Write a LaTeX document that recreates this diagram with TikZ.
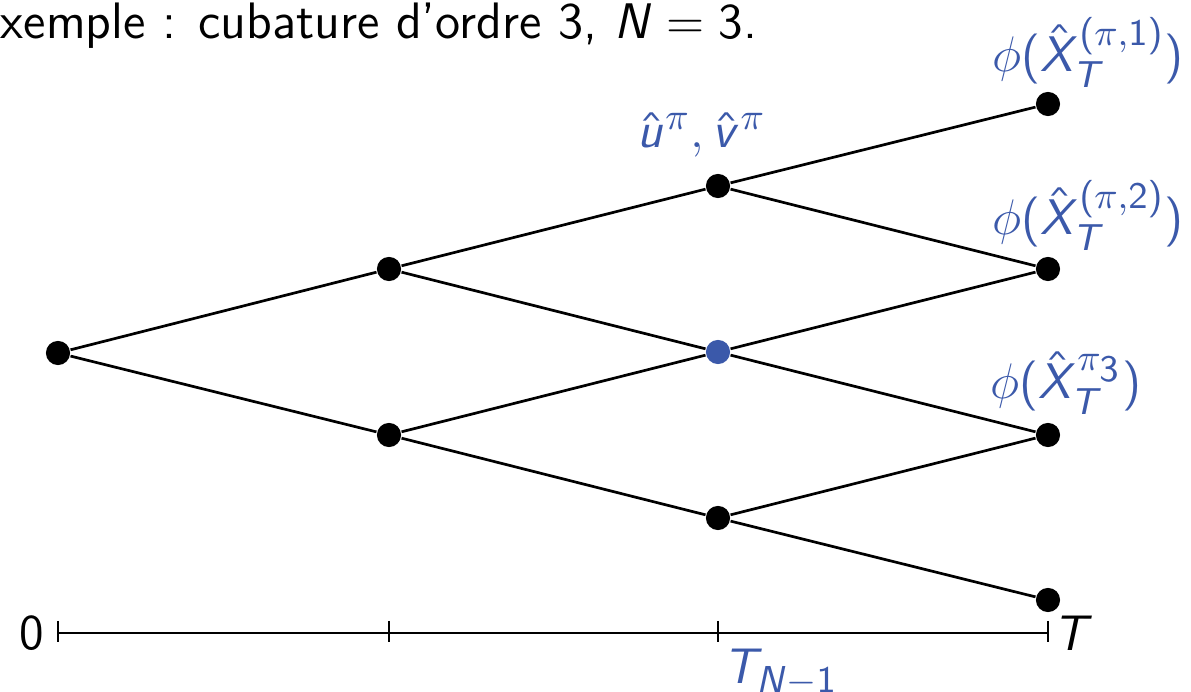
\documentclass[tikz,border=0pt]{standalone}
\usepackage{tikz}
\DeclareSymbolFont{sfletters}{OT1}{cmss}{m}{sl}
\SetSymbolFont{operators}{normal}{OT1}{cmss}{m}{n}
\DeclareMathSymbol{N}{\mathalpha}{sfletters}{`N}
\DeclareMathSymbol{T}{\mathalpha}{sfletters}{`T}
\DeclareMathSymbol{X}{\mathalpha}{sfletters}{`X}
\DeclareMathSymbol{u}{\mathalpha}{sfletters}{`u}
\DeclareMathSymbol{v}{\mathalpha}{sfletters}{`v}
\definecolor{sblue}{RGB}{59,89,170}
\tikzset{
  dot/.style={circle,fill=black,inner sep=0pt,minimum size=5.8pt},
  bdot/.style={circle,fill=sblue,inner sep=0pt,minimum size=5.8pt},
  edge/.style={line width=0.65pt},
  lab/.style={text=sblue,inner sep=0pt},
  tick/.style={line width=0.45pt},
}
\begin{document}
\begin{tikzpicture}[x=0.24pt,y=-0.24pt,font=\sffamily\fontsize{12.3}{14}\selectfont]
\useasboundingbox (0,0) rectangle (1191,692);
\node[anchor=base west,inner sep=0pt] (title) at (0,39) {xemple : cubature d'ordre 3, $N=3$.};
% nodes
\node[dot] (r) at (58,353) {};
\node[dot] (b1) at (389,269) {};
\node[dot] (b2) at (389,435) {};
\node[dot] (c1) at (718,186) {};
\node[bdot] (c2) at (718,352) {};
\node[dot] (c3) at (718,518) {};
\node[dot] (d1) at (1048,104) {};
\node[dot] (d2) at (1048,269) {};
\node[dot] (d3) at (1048,435) {};
\node[dot] (d4) at (1048,600) {};
% edges
\draw[edge] (r) -- (b1);
\draw[edge] (r) -- (b2);
\draw[edge] (b1) -- (c1);
\draw[edge] (b1) -- (c2);
\draw[edge] (b2) -- (c2);
\draw[edge] (b2) -- (c3);
\draw[edge] (c1) -- (d1);
\draw[edge] (c1) -- (d2);
\draw[edge] (c2) -- (d2);
\draw[edge] (c2) -- (d3);
\draw[edge] (c3) -- (d3);
\draw[edge] (c3) -- (d4);
% labels
\node[lab] (l1) at (1088,52) {$\phi(\hat X_T^{(\pi,1)})$};
\node[lab] (l2) at (1088,215) {$\phi(\hat X_T^{(\pi,2)})$};
\node[lab] (l3) at (1066,383) {$\phi(\hat X_T^{\pi_{\scriptstyle 3}})$};
\node[lab] (uv) at (702,135) {$\hat u^\pi, \hat v^\pi$};
% axis
\coordinate (a0) at (58,633);
\coordinate (a1) at (389,633);
\coordinate (a2) at (718,633);
\coordinate (a3) at (1048,633);
\draw[line width=0.6pt] (a0) -- (a3);
\foreach \p in {a0,a1,a2,a3} \draw[tick] ([yshift=2.9pt]\p) -- ([yshift=-2.2pt]\p);
\node[anchor=east,inner sep=0pt] (zero) at ([xshift=-3.1pt]a0) {$0$};
\node[anchor=west,inner sep=0pt] (tT) at ([xshift=1.2pt]a3) {$T$};
\node[lab,anchor=north west] (tn) at ([xshift=1pt,yshift=-3.6pt]a2) {$T_{N-1}$};
\end{tikzpicture}
\end{document}
